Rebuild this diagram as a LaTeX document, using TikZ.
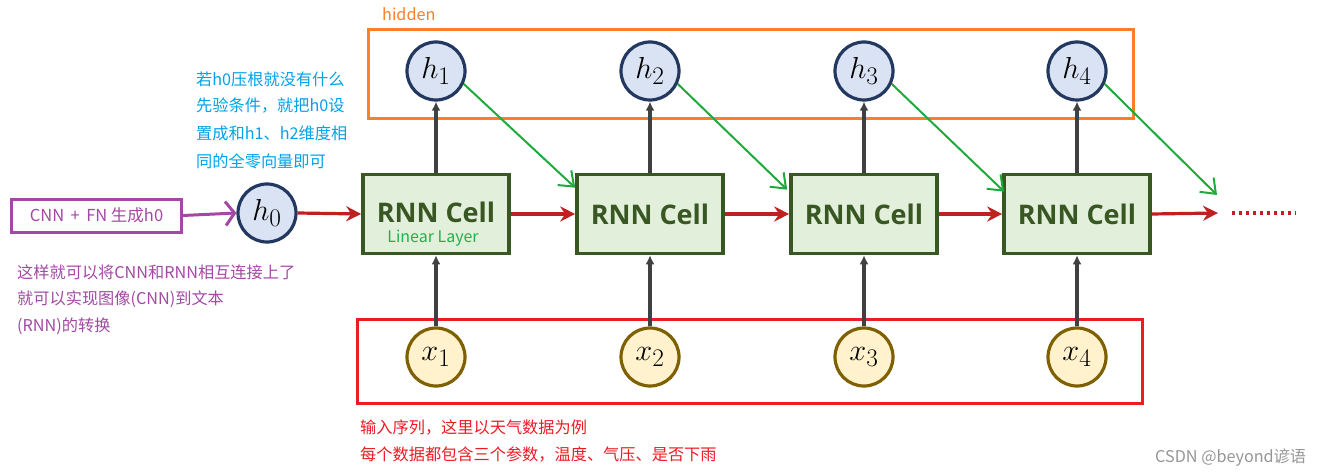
\documentclass[tikz,border=0pt]{standalone}
\usepackage{fontspec}
\setmainfont{Noto Sans CJK SC}
\newfontfamily\cellfont{Open Sans}
\usetikzlibrary{arrows.meta,calc}
\definecolor{hfill}{RGB}{218,227,243}
\definecolor{hdraw}{RGB}{34,56,96}
\definecolor{cfill}{RGB}{226,239,218}
\definecolor{cdraw}{RGB}{56,87,35}
\definecolor{xfill}{RGB}{255,242,204}
\definecolor{xdraw}{RGB}{127,96,0}
\definecolor{redarr}{RGB}{192,32,32}
\definecolor{grayarr}{RGB}{64,64,64}
\definecolor{greenarr}{RGB}{30,170,60}
\definecolor{orangebox}{RGB}{255,127,39}
\definecolor{redbox}{RGB}{237,28,36}
\definecolor{purp}{RGB}{163,73,164}
\definecolor{bluetxt}{RGB}{0,162,232}
\definecolor{lingreen}{RGB}{34,177,76}
\definecolor{wm}{RGB}{150,150,150}
\begin{document}
\begin{tikzpicture}[x=1pt,y=-1pt,
  hcirc/.style={circle,draw=hdraw,fill=hfill,line width=3.2pt,minimum size=58pt,inner sep=0pt,font=\fontsize{24.88}{25}\selectfont},
  xcirc/.style={circle,draw=xdraw,fill=xfill,line width=3.2pt,minimum size=58pt,inner sep=0pt,font=\fontsize{24.88}{25}\selectfont},
  cellbox/.style={rectangle,draw=cdraw,fill=cfill,line width=3.6pt,minimum width=146pt,minimum height=79pt,inner sep=0pt,font=\cellfont\bfseries\fontsize{27}{27}\selectfont,text=cdraw},
  redline/.style={draw=redarr,line width=3.2pt,-{Stealth[length=15pt,width=15pt,inset=5pt]}},
  grayline/.style={draw=grayarr,line width=3.4pt,-{Latex[length=9pt,width=9pt]}},
  greenline/.style={draw=greenarr,line width=2pt,-{Straight Barb[length=13pt,width=20pt,line width=2pt]}},
  note/.style={anchor=west,inner sep=0pt,font=\fontsize{16.2}{16.2}\selectfont},
]
\useasboundingbox[fill=white] (0,0) rectangle (1328,476);

% region boxes
\draw[orangebox,line width=3pt] (368,30) rectangle (1133,119);
\draw[redbox,line width=3pt] (357,319) rectangle (1142,403);
\node[anchor=west,inner sep=0pt,text=orangebox,font=\fontsize{16.2}{16.2}\selectfont] (hid) at (382,14) {hidden};

% hidden states
\node[hcirc] (h0) at (267,213) {\scalebox{1.22}{$h_0$}};
\node[hcirc] (h1) at (436,71) {\scalebox{1.22}{$h_1$}};
\node[hcirc] (h2) at (650,71) {\scalebox{1.22}{$h_2$}};
\node[hcirc] (h3) at (864,71) {\scalebox{1.22}{$h_3$}};
\node[hcirc] (h4) at (1077,71) {\scalebox{1.22}{$h_4$}};

% cells
\node[cellbox] (c1) at (436,214) {\raisebox{4pt}{RNN Cell}};
\node[cellbox] (c2) at (650,214) {RNN Cell};
\node[cellbox] (c3) at (864,214) {RNN Cell};
\node[cellbox] (c4) at (1077,214) {RNN Cell};
\node[inner sep=0pt,text=lingreen,font=\fontsize{16}{16}\selectfont] (lin) at (433,238) {Linear Layer};

% inputs
\node[xcirc] (x1) at (436,357) {\scalebox{1.22}{$x_1$}};
\node[xcirc] (x2) at (650,357) {\scalebox{1.22}{$x_2$}};
\node[xcirc] (x3) at (864,357) {\scalebox{1.22}{$x_3$}};
\node[xcirc] (x4) at (1077,357) {\scalebox{1.22}{$x_4$}};

% CNN box
\node[draw=purp,line width=3pt,minimum width=170pt,minimum height=33pt,inner sep=0pt,text=purp,font=\fontsize{16.5}{16.5}\selectfont] (cnn) at (96.5,215.5) {CNN\, +\, FN 生成h0};
\draw[purp,line width=3pt,-{Straight Barb[length=9pt,width=24pt,line width=3pt]}] (cnn.east) -- (h0.west);

% red recurrent arrows
\coordinate (rend) at (1218,213);
\coordinate (d1) at (1232,213);
\coordinate (d2) at (1296,213);
\draw[redline] (h0.east) -- (c1.west);
\draw[redline] (c1.east) -- (c2.west);
\draw[redline] (c2.east) -- (c3.west);
\draw[redline] (c3.east) -- (c4.west);
\draw[redline] (c4.east) -- (rend);
\draw[draw=redarr,line width=3.2pt,dash pattern=on 3pt off 4pt] (d1) -- (d2);

% gray arrows
\foreach \i in {1,2,3,4}{
  \draw[grayline] (c\i.north) -- (h\i.south);
  \draw[grayline] (x\i.north) -- (c\i.south);
}

% green arrows
\coordinate (gend) at (1217,195);
\draw[greenline] (h1.-25) -- ($(c2.north west)+(0,15)$);
\draw[greenline] (h2.-25) -- ($(c3.north west)+(-2,17)$);
\draw[greenline] (h3.-25) -- ($(c4.north west)+(2,19)$);
\draw[greenline] (h4.-25) -- (gend);

% notes
\node[note,text=bluetxt] (b1) at (196,79) {若h0压根就没有什么};
\node[note,text=bluetxt] (b2) at (196,106) {先验条件，就把h0设};
\node[note,text=bluetxt] (b3) at (196,133) {置成和h1、h2维度相};
\node[note,text=bluetxt] (b4) at (196,161) {同的全零向量即可};

\node[note,text=purp] (p1) at (17,272) {这样就可以将CNN和RNN相互连接上了};
\node[note,text=purp] (p2) at (17,299) {就可以实现图像(CNN)到文本};
\node[note,text=purp] (p3) at (17,326) {(RNN)的转换};

\node[note,text=redbox] (r1) at (360,428) {输入序列，这里以天气数据为例};
\node[note,text=redbox] (r2) at (360,455) {每个数据都包含三个参数，温度、气压、是否下雨};

\node[note,text=wm] (wmk) at (1155,458) {CSDN @beyond谚语};
\end{tikzpicture}
\end{document}
